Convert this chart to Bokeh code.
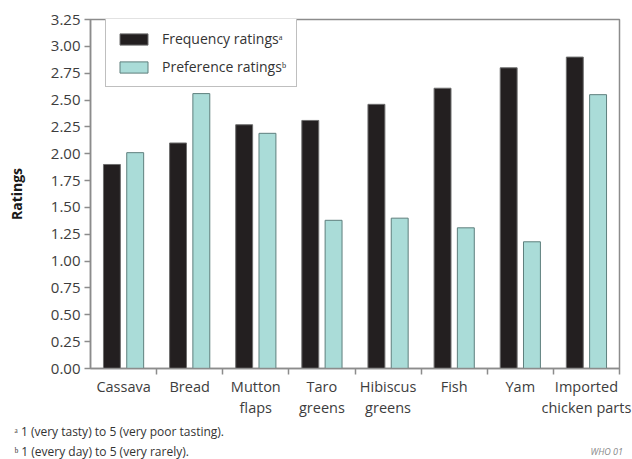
import numpy as np
from bokeh.plotting import figure
from bokeh.models import (Range1d, FixedTicker, NumeralTickFormatter, ColumnDataSource,
                          Legend, LegendItem, Title, Label)
from bokeh.transform import dodge
from bokeh.embed import file_html
from bokeh.resources import INLINE

categories = ["Cassava", "Bread", "Mutton\nflaps", "Taro\ngreens", "Hibiscus\ngreens",
              "Fish", "Yam", "Imported\nchicken parts"]
frequency = [1.90, 2.10, 2.27, 2.31, 2.46, 2.61, 2.80, 2.90]
preference = [2.01, 2.56, 2.19, 1.38, 1.40, 1.31, 1.18, 2.55]
y_ticks = [0.00, 0.25, 0.50, 0.75, 1.00, 1.25, 1.50, 1.75, 2.00, 2.25, 2.50, 2.75, 3.00, 3.25]
series_labels = ["Frequency ratings\u1d43", "Preference ratings\u1d47"]
y_title = "Ratings"
footnotes = ["\u1d43 1 (very tasty) to 5 (very poor tasting).",
             "\u1d47 1 (every day) to 5 (very rarely)."]
credit = "WHO 01"

FONT = "Open Sans"
GREY = "#8c8c8c"
TXT = "#3d3d3d"

n = len(categories)
centers = (np.arange(n) + 0.5).tolist()
src = ColumnDataSource(dict(x=centers, frequency=frequency, preference=preference))

p = figure(width=632, height=459, x_range=Range1d(0, n), y_range=Range1d(0, y_ticks[-1]),
           output_backend="svg", toolbar_location=None,
           min_border_left=90, min_border_right=13, min_border_top=19, min_border_bottom=90)

r1 = p.vbar(x=dodge("x", -0.176, range=p.x_range), top="frequency", width=0.256, source=src,
            fill_color="#231f20", line_color="#6e6e6e", line_width=1)
r2 = p.vbar(x=dodge("x", 0.176, range=p.x_range), top="preference", width=0.256, source=src,
            fill_color="#aadcd8", line_color="#5e7f7d", line_width=1)

p.xgrid.visible = False
p.ygrid.visible = False
p.outline_line_color = GREY
p.outline_line_width = 1.5
p.background_fill_color = "white"
p.border_fill_color = "white"

# x axis
xa = p.xaxis[0]
xa.ticker = FixedTicker(ticks=centers, minor_ticks=list(range(1, n + 1)))
xa.major_label_overrides = {c: lab for c, lab in zip(centers, categories)}
xa.major_tick_out = 0
xa.major_tick_in = 0
xa.minor_tick_out = 6
xa.minor_tick_in = 0
xa.minor_tick_line_color = GREY
xa.minor_tick_line_width = 1.5
xa.axis_line_color = GREY
xa.axis_line_width = 1.5
xa.major_label_standoff = 2
xa.major_label_text_font = FONT
xa.major_label_text_font_size = "14.5px"
xa.major_label_text_color = TXT
xa.major_label_text_line_height = 1.12

# y axis
ya = p.yaxis[0]
ya.ticker = FixedTicker(ticks=y_ticks, minor_ticks=[])
ya.formatter = NumeralTickFormatter(format="0.00")
ya.major_tick_out = 6
ya.major_tick_in = 0
ya.major_tick_line_color = GREY
ya.major_tick_line_width = 1.5
ya.minor_tick_line_color = None
ya.axis_line_color = GREY
ya.axis_line_width = 1.5
ya.major_label_standoff = 4
ya.major_label_text_font = FONT
ya.major_label_text_font_size = "15px"
ya.major_label_text_color = TXT
ya.axis_label = y_title
ya.axis_label_text_font = FONT
ya.axis_label_text_font_style = "bold"
ya.axis_label_text_font_size = "14px"
ya.axis_label_text_color = "#1a1a1a"
ya.axis_label_standoff = 22

legend = Legend(items=[LegendItem(label=series_labels[0], renderers=[r1]),
                       LegendItem(label=series_labels[1], renderers=[r2])],
                location=(15, 281), margin=0, padding=10, spacing=9,
                glyph_width=35, glyph_height=14, label_height=14, label_standoff=11,
                label_text_font=FONT, label_text_font_size="14px", label_text_color="#333333",
                border_line_color="#7f7f7f", border_line_width=1.5,
                background_fill_color="white", background_fill_alpha=1)
p.add_layout(legend)

for i, note in enumerate(footnotes):
    p.add_layout(Title(text=note, align="left", offset=-76, standoff=2 if i == 0 else 0,
                       text_font=FONT, text_font_size="12px", text_font_style="normal",
                       text_color="#333333"), "below")
# credit line: placed from the (otherwise empty) top border panel down to the bottom edge
p.add_layout(Label(x=500, y=-432, x_units="screen", y_units="screen", text=credit,
                   text_baseline="middle", text_font=FONT, text_font_size="9px",
                   text_font_style="italic", text_color="#888888"), "above")

open("out.html", "w").write(file_html(p, INLINE))
